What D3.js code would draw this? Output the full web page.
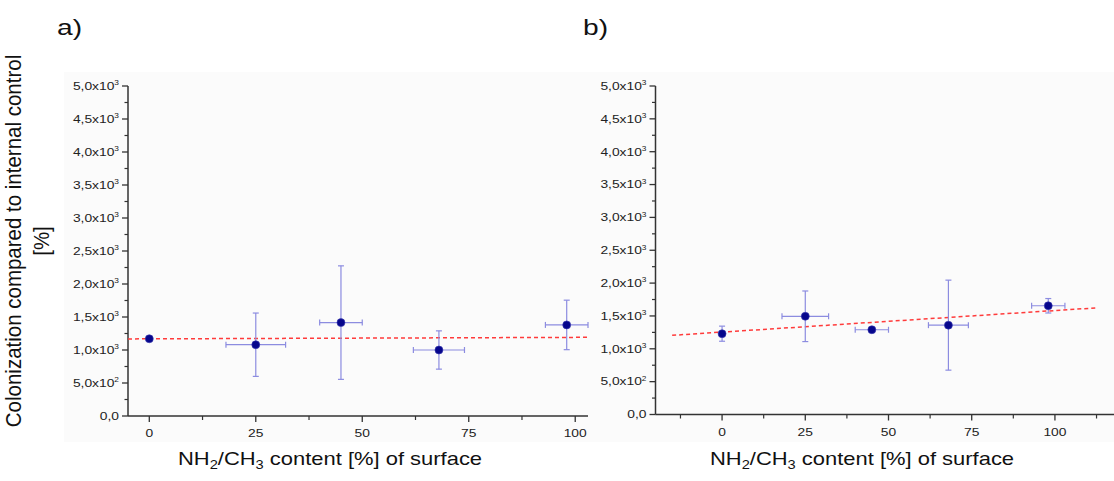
<!DOCTYPE html>
<html><head><meta charset="utf-8">
<script src="https://cdn.jsdelivr.net/npm/d3@7"></script>
<style>
html,body{margin:0;padding:0;background:#fff;}
svg{display:block;font-family:"Liberation Sans",Arial,sans-serif;}
</style></head>
<body><svg id="c" width="1114" height="481"></svg>
<script>
// ---- data ----
const xA = [0, 25, 45, 68, 98];
const yA = [1170, 1080, 1415, 1000, 1380];
const xErrA = [0, 7, 5, 6, 5];
const yErrA = [20, 480, 860, 290, 375];
const fitXA = [-5, 103];
const fitYA = [1168, 1192];

const xB = [0, 25, 45, 68, 98];
const yB = [1230, 1495, 1290, 1360, 1655];
const xErrB = [0, 7, 5, 6, 5];
const yErrB = [115, 385, 20, 685, 110];
const fitXB = [-15, 113];
const fitYB = [1205, 1625];

const yTicks = [0, 500, 1000, 1500, 2000, 2500, 3000, 3500, 4000, 4500, 5000];
const yTickMant = ["0,0", "5,0x10", "1,0x10", "1,5x10", "2,0x10", "2,5x10", "3,0x10", "3,5x10", "4,0x10", "4,5x10", "5,0x10"];
const yTickExp = ["", "2", "3", "3", "3", "3", "3", "3", "3", "3", "3"];
const xTicks = [0, 25, 50, 75, 100];
const xTitleParts = [["NH", 0], ["2", 1], ["/CH", 0], ["3", 1], [" content [%] of surface", 0]];
const yTitle1 = "Colonization compared to internal control";
const yTitle2 = "[%]";

const svg = d3.select("#c");
const SX = 1.28; // horizontal stretch of the original picture

function panel(o) {
  const g = svg.append("g");
  g.append("rect").attr("x", o.bg[0]).attr("y", o.bg[1]).attr("width", o.bg[2]).attr("height", o.bg[3])
    .attr("fill", "#fbfbfb");
  const x = d3.scaleLinear().domain(o.xDom).range(o.xRange);
  const y = d3.scaleLinear().domain([0, 5000]).range(o.yRange);
  const ax = "#333";
  const x0 = o.xRange[0], y0 = o.yRange[0];
  const yMinor = d3.range(250, 5000, 500);
  g.selectAll(".ym").data(yMinor).join("line")
    .attr("x1", x0 - 3.5).attr("x2", x0).attr("y1", d => y(d)).attr("y2", d => y(d))
    .attr("stroke", ax).attr("stroke-width", 1.2);
  g.selectAll(".yM").data(yTicks).join("line")
    .attr("x1", x0 - 6).attr("x2", x0).attr("y1", d => y(d)).attr("y2", d => y(d))
    .attr("stroke", ax).attr("stroke-width", 1.3);
  yTicks.forEach((v, i) => {
    const t = g.append("text")
      .attr("transform", `translate(${x0 - 9},${y(v) + 3.8}) scale(${SX},1)`)
      .attr("text-anchor", "end").attr("font-size", 10.8).attr("fill", "#222");
    t.append("tspan").text(yTickMant[i]);
    if (yTickExp[i]) t.append("tspan").attr("dy", -4.5).attr("font-size", 6.5).text(yTickExp[i]);
  });
  const xMinor = d3.range(-12.5, 125, 25).filter(d => d >= o.xDom[0] && d <= o.xDom[1]);
  g.selectAll(".xm").data(xMinor).join("line")
    .attr("x1", d => x(d)).attr("x2", d => x(d)).attr("y1", y0).attr("y2", y0 + 4)
    .attr("stroke", ax).attr("stroke-width", 1.2);
  g.selectAll(".xM").data(xTicks).join("line")
    .attr("x1", d => x(d)).attr("x2", d => x(d)).attr("y1", y0).attr("y2", y0 + 6)
    .attr("stroke", ax).attr("stroke-width", 1.3);
  xTicks.forEach(v => {
    g.append("text").attr("transform", `translate(${x(v)},${y0 + 21}) scale(${SX},1)`)
      .attr("text-anchor", "middle").attr("font-size", 10.8).attr("fill", "#222").text(v);
  });
  g.append("line").attr("x1", x0).attr("x2", x0).attr("y1", y0).attr("y2", y(5000))
    .attr("stroke", ax).attr("stroke-width", 1.5);
  g.append("line").attr("x1", x0).attr("x2", o.xRange[1]).attr("y1", y0).attr("y2", y0)
    .attr("stroke", ax).attr("stroke-width", 1.5);
  g.append("line").attr("x1", x(o.fitX[0])).attr("x2", x(o.fitX[1]))
    .attr("y1", y(o.fitY[0])).attr("y2", y(o.fitY[1]))
    .attr("stroke", "#ff3b3b").attr("stroke-width", 1.5).attr("stroke-dasharray", "4,3");
  const ec = "#8c8ce0", cap = 3;
  o.xs.forEach((xv, i) => {
    const yv = o.ys[i], ex = o.ex[i], ey = o.ey[i];
    const px = x(xv), py = y(yv);
    if (ey > 0) {
      g.append("line").attr("x1", px).attr("x2", px).attr("y1", y(yv - ey)).attr("y2", y(yv + ey)).attr("stroke", ec).attr("stroke-width", 1.2);
      [yv - ey, yv + ey].forEach(e => g.append("line").attr("x1", px - cap).attr("x2", px + cap).attr("y1", y(e)).attr("y2", y(e)).attr("stroke", ec).attr("stroke-width", 1.2));
    }
    if (ex > 0) {
      g.append("line").attr("x1", x(xv - ex)).attr("x2", x(xv + ex)).attr("y1", py).attr("y2", py).attr("stroke", ec).attr("stroke-width", 1.2);
      [xv - ex, xv + ex].forEach(e => g.append("line").attr("x1", x(e)).attr("x2", x(e)).attr("y1", py - cap).attr("y2", py + cap).attr("stroke", ec).attr("stroke-width", 1.2));
    }
  });
  g.selectAll(".pt").data(o.xs).join("circle")
    .attr("cx", d => x(d)).attr("cy", (d, i) => y(o.ys[i])).attr("r", 4)
    .attr("fill", "#06068c").attr("stroke", "#3a3ab0").attr("stroke-width", 0.6);
  const tt = g.append("text").attr("transform", `translate(${o.titleX},465) scale(1.22,1)`)
    .attr("text-anchor", "middle").attr("font-size", 18).attr("fill", "#111");
  xTitleParts.forEach(([s, sub], i) => {
    const prevSub = i > 0 ? xTitleParts[i - 1][1] : 0;
    const sp = tt.append("tspan").text(s);
    if (sub) sp.attr("font-size", 12);
    sp.attr("dy", sub && !prevSub ? 4 : (!sub && prevSub ? -4 : 0));
  });
  svg.append("text").attr("transform", `translate(${o.letterX},35) scale(${SX},1)`)
    .attr("font-size", 22).attr("fill", "#111").text(o.letter);
}

panel({ bg: [64, 72, 536, 370], xDom: [-5, 103], xRange: [128, 588], yRange: [416, 86],
  xs: xA, ys: yA, ex: xErrA, ey: yErrA, fitX: fitXA, fitY: fitYA, titleX: 330, letterX: 57, letter: "a)" });
panel({ bg: [600, 72, 514, 370], xDom: [-20, 120], xRange: [655.5, 1121.5], yRange: [414.5, 86],
  xs: xB, ys: yB, ex: xErrB, ey: yErrB, fitX: fitXB, fitY: fitYB, titleX: 862, letterX: 583, letter: "b)" });

svg.append("text").attr("transform", `translate(21,241) scale(1.12,1) rotate(-90)`)
  .attr("text-anchor", "middle").attr("font-size", 20.5).attr("fill", "#111").text(yTitle1);
svg.append("text").attr("transform", `translate(49,241) scale(1.12,1) rotate(-90)`)
  .attr("text-anchor", "middle").attr("font-size", 20.5).attr("fill", "#111").text(yTitle2);
</script></body></html>
